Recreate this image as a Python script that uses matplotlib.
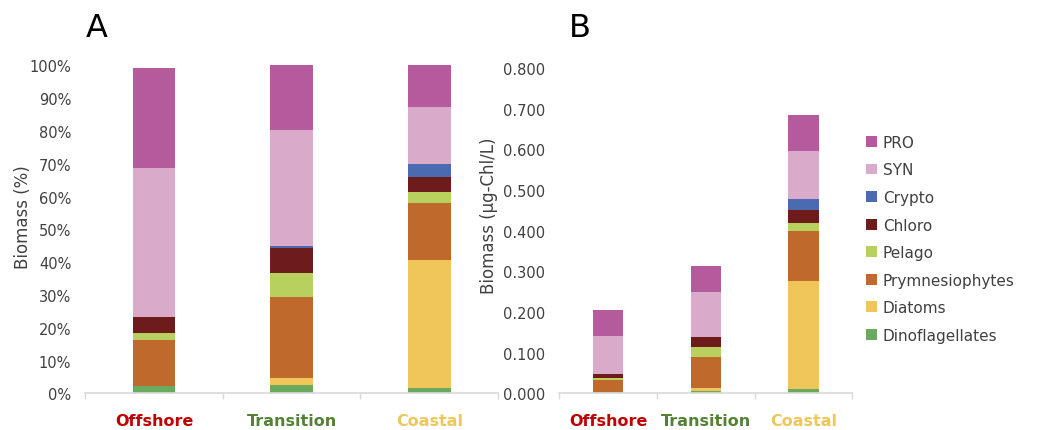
import matplotlib

matplotlib.use("Agg")

import matplotlib.pyplot as plt
import numpy as np


OUT_PATH = "out.png"
DPI = 100
FIGSIZE = (10.51, 4.31)

REGIONS = ["Offshore", "Transition", "Coastal"]
REGION_COLORS = ["#C00000", "#548235", "#EEC75B"]

# stacked from bottom to top
GROUPS = ["Dinoflagellates", "Diatoms", "Prymnesiophytes", "Pelago",
          "Chloro", "Crypto", "SYN", "PRO"]
GROUP_COLORS = ["#6AAA5E", "#F0C65A", "#C0692C", "#B8D15E",
                "#6E1B1B", "#4A6BAF", "#D9AAC9", "#B65A9E"]

# panel A, relative biomass (%)
PCT_OFFSHORE = [2.3, 0.0, 13.9, 2.2, 4.9, 0.0, 45.3, 30.7]
PCT_TRANSITION = [2.5, 2.2, 24.6, 7.3, 7.8, 0.4, 35.6, 19.6]
PCT_COASTAL = [1.7, 39.1, 17.2, 3.3, 4.7, 3.9, 17.4, 12.7]

# panel B, absolute biomass (ug-Chl/L)
ABS_OFFSHORE = [0.003, 0.000, 0.030, 0.004, 0.010, 0.000, 0.093, 0.064]
ABS_TRANSITION = [0.006, 0.006, 0.078, 0.023, 0.025, 0.001, 0.111, 0.062]
ABS_COASTAL = [0.011, 0.266, 0.121, 0.021, 0.032, 0.027, 0.119, 0.087]

PCT_TICKS = np.arange(0, 101, 10)
ABS_TICKS = np.arange(0, 0.81, 0.1)

TEXT_COLOR = "#404040"
AXIS_COLOR = "#D9D9D9"
BAR_WIDTH = 0.31


def stacked_bars(ax, table):
    x = np.arange(len(REGIONS))
    bottom = np.zeros(len(REGIONS))
    for i, (name, color) in enumerate(zip(GROUPS, GROUP_COLORS)):
        vals = np.array([row[i] for row in table])
        ax.bar(x, vals, BAR_WIDTH, bottom=bottom, color=color, label=name)
        bottom += vals


def style_axis(ax, ylim, yticks, fmt, ylabel):
    ax.set_xlim(-0.5, len(REGIONS) - 0.5)
    ax.set_ylim(*ylim)
    for side in ["top", "right", "left"]:
        ax.spines[side].set_visible(False)
    ax.spines["bottom"].set_color(AXIS_COLOR)
    ax.spines["bottom"].set_linewidth(1.2)
    ax.set_yticks(yticks)
    ax.set_yticklabels([fmt(v) for v in yticks])
    ax.tick_params(axis="y", length=0, pad=10, labelsize=10.5, labelcolor=TEXT_COLOR)
    ax.set_xticks(np.arange(len(REGIONS)))
    ax.set_xticklabels(REGIONS, fontsize=11.5, fontweight="bold")
    for lbl, c in zip(ax.get_xticklabels(), REGION_COLORS):
        lbl.set_color(c)
    ax.tick_params(axis="x", which="major", length=0, pad=14)
    ax.set_xticks(np.arange(-0.5, len(REGIONS)), minor=True)
    ax.tick_params(axis="x", which="minor", length=4, color=AXIS_COLOR, width=1)
    ax.set_ylabel(ylabel, fontsize=12, color=TEXT_COLOR)


def main():
    fig = plt.figure(figsize=FIGSIZE, dpi=DPI)
    ax_a = fig.add_axes([0.081, 0.085, 0.393, 0.761])
    ax_b = fig.add_axes([0.532, 0.085, 0.279, 0.755])

    stacked_bars(ax_a, [PCT_OFFSHORE, PCT_TRANSITION, PCT_COASTAL])
    style_axis(ax_a, (0, 100), PCT_TICKS, lambda v: f"{v:.0f}%", "Biomass (%)")
    ax_a.yaxis.set_label_coords(-0.128, 0.54)

    stacked_bars(ax_b, [ABS_OFFSHORE, ABS_TRANSITION, ABS_COASTAL])
    style_axis(ax_b, (0, 0.8), ABS_TICKS, lambda v: f"{v:.3f}", "Biomass (\u00b5g-Chl/L)")
    ax_b.yaxis.set_label_coords(-0.21, 0.548)

    handles, labels = ax_b.get_legend_handles_labels()
    ax_b.legend(handles[::-1], labels[::-1], loc="center left",
                bbox_to_anchor=(1.0, 0.475), frameon=False, fontsize=11,
                handlelength=0.7, handleheight=0.7, handletextpad=0.4,
                labelspacing=0.82, labelcolor=TEXT_COLOR)

    fig.text(0.0918, 0.935, "A", fontsize=23, ha="center", va="center")
    fig.text(0.552, 0.935, "B", fontsize=23, ha="center", va="center")

    fig.savefig(OUT_PATH, dpi=DPI)
    plt.close(fig)


if __name__ == "__main__":
    main()
